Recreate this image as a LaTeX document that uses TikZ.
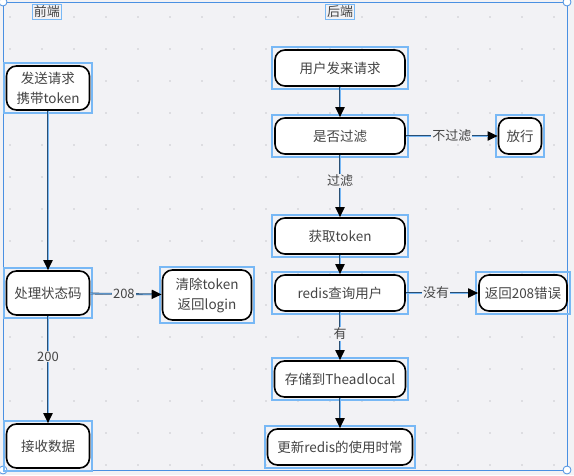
\documentclass[tikz,border=0pt]{standalone}
\usepackage{fontspec}
\setmainfont{Noto Sans CJK SC}
\usepackage{xcolor}
\usepackage{tikz}
\usetikzlibrary{arrows.meta,positioning,calc}
\definecolor{bgcol}{HTML}{F2F2F5}
\definecolor{dotcol}{HTML}{C9C9CE}
\definecolor{selblue}{HTML}{78B8F5}
\definecolor{framecol}{HTML}{4A90E2}
\definecolor{linecol}{HTML}{2A4F73}
\definecolor{txtcol}{HTML}{444444}

\begin{document}
\begin{tikzpicture}[x=1pt,y=-1pt,font=\fontsize{13.5}{20}\selectfont,
    proc/.style={rounded corners=10pt,draw=black,line width=1.6pt,fill=white,text=txtcol,align=center,minimum height=36pt,inner sep=2pt},
    sel/.style={draw=selblue,line width=1.8pt},
    lbl/.style={fill=bgcol,text=txtcol,inner sep=1pt,font=\fontsize{13}{16}\selectfont},
    flow/.style={-{Triangle[length=10pt,width=9pt,color=black]},draw=linecol,line width=1.8pt,
      postaction={draw=selblue,line width=0.6pt,-,shorten >=10pt}}]
    \useasboundingbox (0,0) rectangle (574,475);
    \fill[bgcol] (0,0) rectangle (574,475);
    % dot grid
    \foreach \x in {10,42,...,570}
      \foreach \y in {17,49,...,470}
        \fill[dotcol] (\x,\y) circle (0.9);
    % frame
    \draw[framecol,line width=1pt] (3,2) rectangle (567,470);
    \foreach \c in {(3,2),(567,2),(3,470),(567,470)}
      \filldraw[fill=white,draw=framecol,line width=0.8pt] \c circle (4);
    % lane titles
    \node[draw=selblue,line width=1.2pt,inner sep=1.5pt,text=txtcol,font=\fontsize{13}{16}\selectfont] (front) at (47,12) {前端};
    \node[draw=selblue,line width=1.2pt,inner sep=1.5pt,text=txtcol,font=\fontsize{13}{16}\selectfont] (back) at (340,12) {后端};
    % front end
    \node[proc,minimum width=83pt,minimum height=44pt] (send) at (48,88) {发送请求\\携带token};
    \node[proc,minimum width=83pt,minimum height=44pt] (code) at (48,293) {处理状态码};
    \node[proc,minimum width=89pt,minimum height=50pt] (clear) at (207,295) {清除token\\返回login};
    \node[proc,minimum width=83pt,minimum height=44pt] (recv) at (48,446) {接收数据};
    % back end
    \node[proc,minimum width=130pt] (req) at (340,68) {用户发来请求};
    \node[proc,minimum width=130pt] (filter) at (340,136) {是否过滤};
    \node[proc,minimum width=43pt] (pass) at (520,136) {放行};
    \node[proc,minimum width=130pt] (gettok) at (340,236) {获取token};
    \node[proc,minimum width=130pt] (query) at (340,293) {redis查询用户};
    \node[proc,minimum width=88pt] (err) at (523,293) {返回208错误};
    \node[proc,minimum width=131pt] (store) at (340,379) {存储到Theadlocal};
    \node[proc,minimum width=145pt] (update) at (340,447) {更新redis的使用时常};
    \foreach \n in {send,code,clear,recv,req,filter,pass,gettok,query,err,store,update}
      \draw[sel] ($(\n.north west)+(-2,-2)$) rectangle ($(\n.south east)+(2,2)$);
    % connectors
    \draw[flow] (send) -- (code);
    \draw[flow] (code) -- node[lbl,pos=0.47] {208} (clear);
    \draw[flow] (code) -- node[lbl,pos=0.38] {200} (recv);
    \draw[flow] (req) -- (filter);
    \draw[flow] (filter) -- node[lbl] {不过滤} (pass);
    \draw[flow] (filter) -- node[lbl,pos=0.42] {过滤} (gettok);
    \draw[flow] (gettok) -- (query);
    \draw[flow] (query) -- node[lbl,pos=0.42] {没有} (err);
    \draw[flow] (query) -- node[lbl,pos=0.45] {有} (store);
    \draw[flow] (store) -- (update);
\end{tikzpicture}
\end{document}
